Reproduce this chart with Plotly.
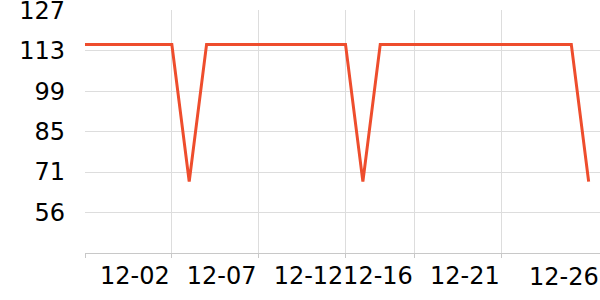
import plotly.graph_objects as go

dates = ["2023-11-27", "2023-11-28", "2023-11-29", "2023-11-30", "2023-12-01",
         "2023-12-02", "2023-12-03", "2023-12-04", "2023-12-05", "2023-12-06",
         "2023-12-07", "2023-12-08", "2023-12-09", "2023-12-10", "2023-12-11",
         "2023-12-12", "2023-12-13", "2023-12-14", "2023-12-15", "2023-12-16",
         "2023-12-17", "2023-12-18", "2023-12-19", "2023-12-20", "2023-12-21",
         "2023-12-22", "2023-12-23", "2023-12-24", "2023-12-25", "2023-12-26"]
values = [115, 115, 115, 115, 115, 115, 67, 115, 115, 115,
          115, 115, 115, 115, 115, 115, 67, 115, 115, 115,
          115, 115, 115, 115, 115, 115, 115, 115, 115, 67]

x_tick_dates = ["2023-11-27", "2023-12-02", "2023-12-07", "2023-12-12", "2023-12-16", "2023-12-21"]
x_tick_labels = ["", "12-02", "12-07", "12-12", "12-16", "12-21"]
last_label = "12-26"

y_min, y_max = 42, 127
y_tick_labels = ["127", "113", "99", "85", "71", "56", ""]
y_tick_vals = [y_max - i * (y_max - y_min) / 6 for i in range(7)]

LINE = "#ee4d2d"
GRID = "#dddddd"
FONT = "DejaVu Sans"
FS = 24

fig = go.Figure()
fig.add_trace(go.Scatter(
    x=dates, y=values, mode="lines",
    line=dict(color=LINE, width=3),
    hoverinfo="skip", showlegend=False,
))

fig.update_layout(
    width=600, height=300,
    margin=dict(l=85, r=0, t=10, b=47, autoexpand=False),
    paper_bgcolor="white", plot_bgcolor="white",
    font=dict(family=FONT, size=FS, color="#000000"),
    showlegend=False,
)
fig.update_xaxes(
    type="date",
    range=["2023-11-27 00:00", "2023-12-26 15:40"],
    tickmode="array", tickvals=x_tick_dates, ticktext=x_tick_labels,
    tickangle=0, automargin=False,
    ticklabelshift=-37, ticklabelstandoff=-3,
    showgrid=True, gridcolor=GRID, gridwidth=1,
    showline=True, linecolor="#c8c8c8", linewidth=1,
    ticks="outside", ticklen=4, tickcolor="#c8c8c8",
    zeroline=False, fixedrange=True,
    tickfont=dict(family=FONT, size=FS, color="#000000"),
)
fig.update_yaxes(
    range=[y_min, y_max + 0.05], automargin=False,
    tickmode="array", tickvals=y_tick_vals, ticktext=y_tick_labels,
    ticklabeloverflow="allow",
    showgrid=True, gridcolor=GRID, gridwidth=1,
    showline=False, zeroline=False, ticks="", fixedrange=True,
    ticklabelstandoff=19,
    tickfont=dict(family=FONT, size=FS, color="#000000"),
)
fig.add_annotation(
    text=last_label, xref="paper", yref="paper", x=1, y=0,
    xanchor="right", yanchor="top", yshift=-9, showarrow=False, borderpad=0,
    font=dict(family=FONT, size=FS, color="#000000"),
)

fig.write_html("out.html", config={"displayModeBar": False})
